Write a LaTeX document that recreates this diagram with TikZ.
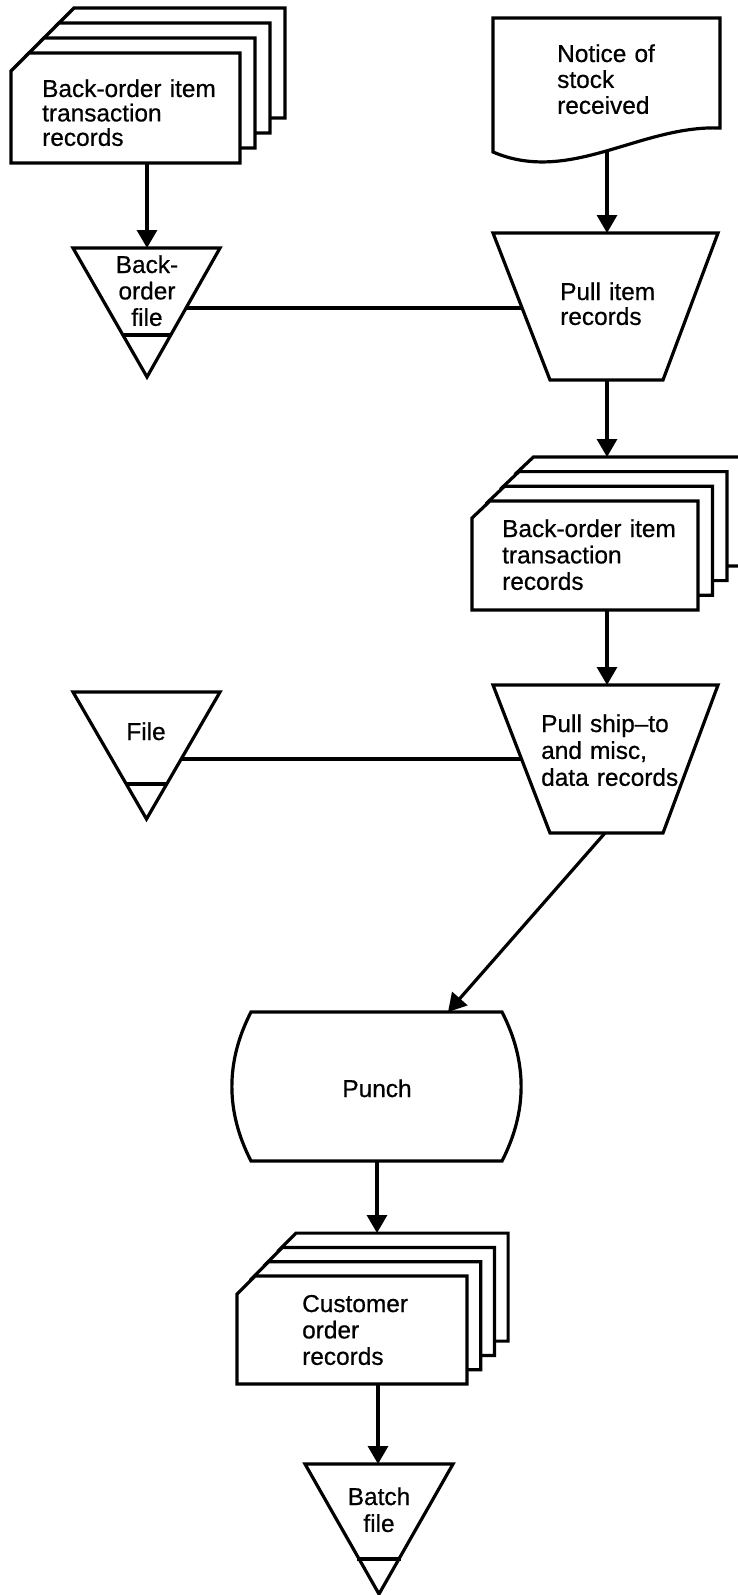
\documentclass[tikz,border=0pt]{standalone}
\usepackage{fontspec}
\setmainfont{Liberation Sans}[FakeBold=0.5]
\newfontfamily\lblfont{Liberation Sans}[FakeBold=0.6]
\usetikzlibrary{arrows.meta}
\begin{document}
\begin{tikzpicture}[x=1bp,y=-1bp,
  outline/.style={draw=black, line width=3.2bp, line join=miter, fill=white},
  conn/.style={draw=black, line width=3.2bp},
  arr/.style={conn, -{Triangle[length=18bp,width=20bp]}},
  lbl/.style={font=\lblfont\fontsize{24.5}{#1}\selectfont, inner sep=0pt, text width=200bp, align=left, anchor=base west},
  clbl/.style={font=\lblfont\fontsize{24.5}{#1}\selectfont, inner sep=0pt, text width=120bp, align=center, anchor=base},
]
\useasboundingbox (0,0) rectangle (738,1595);
\clip (0,0) rectangle (738,1595);

% ---------- deck 1 : back-order item transaction records (top left)
\foreach \k in {3,2,1,0}{
  \path[outline, shift={(15*\k,-15*\k)}] (11,71) -- (29,53) -- (240,53) -- (240,163) -- (11,163) -- cycle;
}
\node[lbl=24.5] (deckA) at (42,97) {Back-order item\\transaction\\records};
\coordinate (deckA-s) at (147,163);

% ---------- back-order file
\path[outline] (73,248) -- (220,248) -- (147,377) -- cycle;
\draw[conn] (123.5,335) -- (170.5,335);
\node[clbl=26.5] (bofile) at (147,273) {Back-\\order\\file};
\coordinate (bofile-n) at (147,248);
\coordinate (bofile-e) at (186,308);

% ---------- notice of stock received (document)
\path[outline] (493,152) -- (493,18) -- (720,18) -- (720,128)
  .. controls (640,125) and (570,185) .. (493,152) -- cycle;
\node[lbl=26] (notice) at (557,62) {Notice of\\stock\\received};
\coordinate (notice-s) at (607,152);

% ---------- pull item records (manual operation)
\path[outline] (493,233) -- (718,233) -- (663,380) -- (550,380) -- cycle;
\node[lbl=25] (pullA) at (560,300) {Pull item\\records};
\coordinate (pullA-n) at (607,233);
\coordinate (pullA-s) at (607,380);
\coordinate (pullA-w) at (521.7,308);

% ---------- deck 2
\foreach \k in {3,2,1,0}{
  \path[outline, shift={(14.5*\k,-14.7*\k)}] (472,518) -- (490,501) -- (698,501) -- (698,610) -- (472,610) -- cycle;
}
\node[lbl=26.5] (deckB) at (502,537) {Back-order item\\transaction\\records};
\coordinate (deckB-n) at (607,457);
\coordinate (deckB-s) at (607,610);

% ---------- file
\path[outline] (73,692) -- (220,692) -- (146.5,819) -- cycle;
\draw[conn] (126,784) -- (167,784);
\node[clbl=26] (file) at (146,740) {File};
\coordinate (file-e) at (181.5,759);

% ---------- pull ship-to and misc. data records
\path[outline] (493,685) -- (718,685) -- (663,833) -- (550,833) -- cycle;
\node[lbl=27] (pullB) at (541,732) {Pull ship–to\\and misc,\\data records};
\coordinate (pullB-n) at (607,685);
\coordinate (pullB-w) at (521.5,759);
\coordinate (pullB-s) at (605,833);

% ---------- punch
\path[outline] (251,1012) -- (502,1012)
  .. controls (527.5,1061.7) and (527.5,1111.3) .. (502,1161)
  -- (251,1161)
  .. controls (225.5,1111.3) and (225.5,1061.7) .. (251,1012) -- cycle;
\node[clbl=26] (punch) at (377,1097) {Punch};
\coordinate (punch-n) at (448,1012);
\coordinate (punch-s) at (377,1161);

% ---------- deck 3 : customer order records
\foreach \k in {3,2,1,0}{
  \path[outline, shift={(13.7*\k,-14.3*\k)}] (237,1294) -- (255,1276) -- (467,1276) -- (467,1384) -- (237,1384) -- cycle;
}
\node[lbl=26.5] (deckC) at (302,1312) {Customer\\order\\records};
\coordinate (deckC-n) at (377,1233);
\coordinate (deckC-s) at (378,1384);

% ---------- batch file
\path[outline] (305,1464) -- (453,1464) -- (379,1594) -- cycle;
\draw[conn] (357,1559) -- (401,1559);
\node[clbl=27] (batch) at (379,1505) {Batch\\file};
\coordinate (batch-n) at (378,1464);

% ---------- connectors
\draw[arr] (deckA-s) -- (bofile-n);
\draw[conn] (bofile-e) -- (pullA-w);
\draw[arr] (notice-s) -- (pullA-n);
\draw[arr] (pullA-s) -- (deckB-n);
\draw[arr] (deckB-s) -- (pullB-n);
\draw[conn] (file-e) -- (pullB-w);
\draw[arr] (pullB-s) -- (punch-n);
\draw[arr] (punch-s) -- (deckC-n);
\draw[arr] (deckC-s) -- (batch-n);
\end{tikzpicture}
\end{document}
